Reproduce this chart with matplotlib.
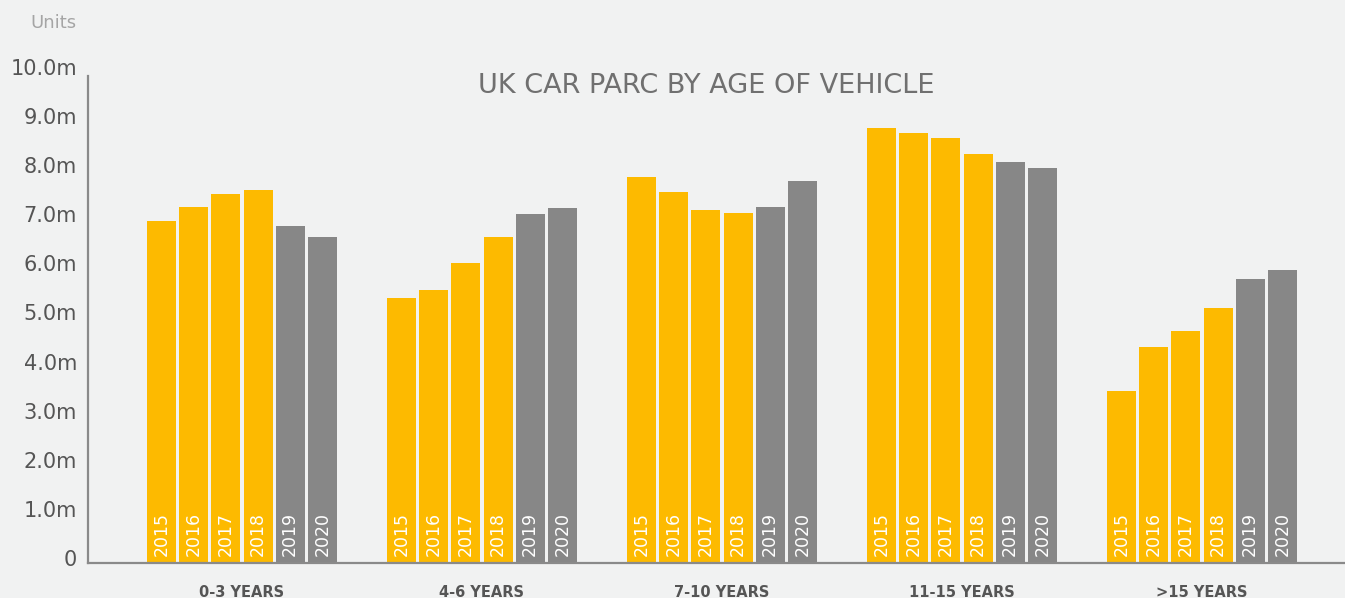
import numpy as np
import matplotlib
matplotlib.use("Agg")
import matplotlib.pyplot as plt
import matplotlib.transforms as mtransforms

# data (millions of cars)
groups = ["0-3 YEARS", "4-6 YEARS", "7-10 YEARS", "11-15 YEARS", ">15 YEARS"]
years = ["2015", "2016", "2017", "2018", "2019", "2020"]
v_2015 = [6.97, 5.40, 7.86, 8.86, 3.50]
v_2016 = [7.25, 5.56, 7.56, 8.76, 4.40]
v_2017 = [7.51, 6.11, 7.19, 8.66, 4.72]
v_2018 = [7.60, 6.64, 7.13, 8.33, 5.19]
v_2019 = [6.86, 7.11, 7.25, 8.17, 5.78]
v_2020 = [6.64, 7.23, 7.78, 8.04, 5.97]
series = [v_2015, v_2016, v_2017, v_2018, v_2019, v_2020]

yellow = "#FDBA00"
grey = "#878787"
bg = "#F1F2F2"
txt = "#555555"

plt.rcParams['font.family'] = ['DejaVu Sans']

fig = plt.figure(figsize=(13.45, 5.98), dpi=100, facecolor=bg)
ax = fig.add_axes([88/1345, 35/598, 1 - 88/1345, 0.8375])
ax.set_facecolor(bg)

x = np.arange(len(groups))
pitch = 0.134
width = 0.121
for j, vals in enumerate(series):
    col = yellow if j < 4 else grey
    xs = x + (j - 2.5) * pitch
    ax.bar(xs, vals, width=width, color=col, zorder=2)
    for xi in xs:
        ax.text(xi, 0.15, years[j], rotation=90, ha="center", va="bottom",
                color="white", fontsize=12.5, fontweight="medium", zorder=3)

ax.set_xlim(-0.6417, 4.596)
ax.set_ylim(0, 10.2)

ax.set_yticks(np.arange(0, 11, 1))
ax.set_yticklabels(["0"] + ["%.1fm" % v for v in range(1, 11)])
ax.tick_params(axis="y", length=0, pad=8, labelsize=15, labelcolor=txt)
off = mtransforms.ScaledTranslation(0, 5/100, fig.dpi_scale_trans)
for lab in ax.get_yticklabels():
    lab.set_transform(lab.get_transform() + off)

ax.set_xticks(x)
ax.set_xticklabels(groups)
ax.tick_params(axis="x", length=0, pad=16, labelsize=10.5, labelcolor=txt)
for lab in ax.get_xticklabels():
    lab.set_fontweight("bold")

for s in ["top", "right"]:
    ax.spines[s].set_visible(False)
for s in ["left", "bottom"]:
    ax.spines[s].set_color("#8a8a8a")
    ax.spines[s].set_linewidth(1.6)
ax.spines["left"].set_bounds(0, 9.92)

fig.text(706/1345, 1 - 86/598, "UK CAR PARC BY AGE OF VEHICLE", ha="center",
         va="center", fontsize=19.5, color="#707070")
fig.text(77/1345, 1 - 23/598, "Units", ha="right", va="center",
         fontsize=13, color="#a5a5a5")

fig.savefig("out.png", dpi=100, facecolor=bg)
